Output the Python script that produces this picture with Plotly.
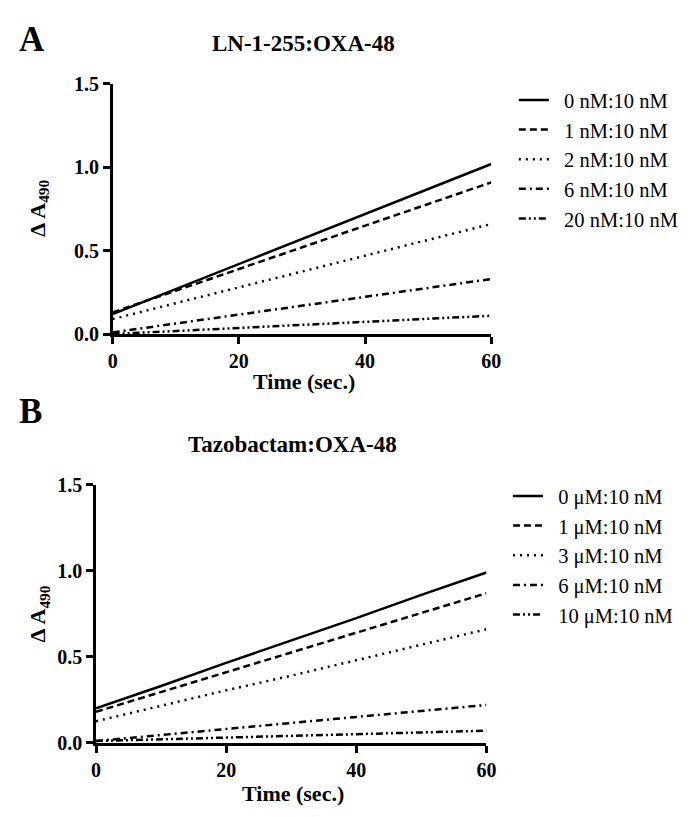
import plotly.graph_objects as go

# ---- data ----
time_pts = [0, 10, 20, 30, 40, 50, 60]

a_labels = ["0 nM:10 nM", "1 nM:10 nM", "2 nM:10 nM", "6 nM:10 nM", "20 nM:10 nM"]
a_0nM = [0.12, 0.27, 0.42, 0.57, 0.72, 0.87, 1.02]
a_1nM = [0.13, 0.26, 0.39, 0.52, 0.65, 0.78, 0.91]
a_2nM = [0.09, 0.185, 0.28, 0.375, 0.47, 0.565, 0.66]
a_6nM = [0.01, 0.063, 0.117, 0.17, 0.223, 0.277, 0.33]
a_20nM = [0.0, 0.018, 0.037, 0.055, 0.073, 0.092, 0.11]

b_labels = ["0 μM:10 nM", "1 μM:10 nM", "3 μM:10 nM", "6 μM:10 nM", "10 μM:10 nM"]
b_0uM = [0.20, 0.33, 0.465, 0.595, 0.725, 0.86, 0.99]
b_1uM = [0.18, 0.295, 0.41, 0.525, 0.64, 0.755, 0.87]
b_3uM = [0.125, 0.215, 0.305, 0.39, 0.48, 0.57, 0.66]
b_6uM = [0.01, 0.045, 0.08, 0.115, 0.15, 0.185, 0.22]
b_10uM = [0.01, 0.02, 0.03, 0.04, 0.05, 0.06, 0.07]

x_ticks = [0, 20, 40, 60]
y_ticks = [0.0, 0.5, 1.0, 1.5]

dashes = ["solid", "7px,4px", "2px,5px", "7px,4px,2px,4px", "7px,3px,2px,3px,2px,3px"]

W, H = 698, 817
FONT = "'Liberation Serif', 'Times New Roman', Times, 'DejaVu Serif', serif"
PAD = "\u00a0\u00a0"

fig = go.Figure()

a_series = [a_0nM, a_1nM, a_2nM, a_6nM, a_20nM]
b_series = [b_0uM, b_1uM, b_3uM, b_6uM, b_10uM]

for lab, ys, d in zip(a_labels, a_series, dashes):
    fig.add_trace(go.Scatter(x=time_pts, y=ys, mode="lines", name=PAD + lab,
                             line=dict(color="black", width=2.5, dash=d),
                             xaxis="x", yaxis="y", legend="legend"))
for lab, ys, d in zip(b_labels, b_series, dashes):
    fig.add_trace(go.Scatter(x=time_pts, y=ys, mode="lines", name=PAD + lab,
                             line=dict(color="black", width=2.5, dash=d),
                             xaxis="x2", yaxis="y2", legend="legend2"))

def px_x(p):
    return p / W

def px_y(p):
    return 1 - p / H

axis_common = dict(showline=True, linecolor="black", linewidth=2.5,
                   ticks="outside", ticklen=7, tickwidth=2.5, tickcolor="black",
                   showgrid=False, zeroline=False,
                   tickfont=dict(family=FONT, size=20, color="black", weight="bold"))

fig.update_layout(
    width=W, height=H,
    margin=dict(l=0, r=0, t=0, b=0),
    plot_bgcolor="white", paper_bgcolor="white",
    font=dict(family=FONT, color="black"),
    xaxis=dict(domain=[px_x(110), px_x(497)], range=[0, 60], tickvals=x_ticks,
               anchor="y", **axis_common),
    yaxis=dict(domain=[px_y(332), px_y(75)], range=[0, 1.5], tickvals=y_ticks,
               tickformat=".1f", anchor="x", **axis_common),
    xaxis2=dict(domain=[px_x(93), px_x(492)], range=[0, 60], tickvals=x_ticks,
                anchor="y2", **axis_common),
    yaxis2=dict(domain=[px_y(752), px_y(487)], range=[0, 1.5], tickvals=y_ticks,
                tickformat=".1f", anchor="x2", **axis_common),
    legend=dict(x=px_x(520), y=px_y(71), xanchor="left", yanchor="top",
                font=dict(family=FONT, size=20.5, color="black"),
                itemwidth=30, tracegroupgap=0, bgcolor="rgba(0,0,0,0)"),
    legend2=dict(x=px_x(514), y=px_y(478), xanchor="left", yanchor="top",
                 font=dict(family=FONT, size=20.5, color="black"),
                 itemwidth=30, tracegroupgap=0, bgcolor="rgba(0,0,0,0)"),
)

annots = [
    dict(text="A", x=px_x(12), y=px_y(29), xanchor="left", yanchor="middle",
         font=dict(size=35, weight="bold")),
    dict(text="B", x=px_x(12), y=px_y(412), xanchor="left", yanchor="middle",
         font=dict(size=35, weight="bold")),
    dict(text="LN-1-255:OXA-48", x=px_x(305), y=px_y(33), xanchor="center", yanchor="middle",
         font=dict(size=23, weight="bold")),
    dict(text="Tazobactam:OXA-48", x=px_x(294), y=px_y(446), xanchor="center", yanchor="middle",
         font=dict(size=23, weight="bold")),
    dict(text="Time (sec.)", x=px_x(306), y=px_y(381), xanchor="center", yanchor="middle",
         font=dict(size=22, weight="bold")),
    dict(text="Time (sec.)", x=px_x(294), y=px_y(804), xanchor="center", yanchor="middle",
         font=dict(size=22, weight="bold")),
    dict(text="Δ A<sub>490</sub>", x=px_x(34), y=px_y(203), textangle=-90,
         xanchor="center", yanchor="middle", font=dict(size=22, weight="bold")),
    dict(text="Δ A<sub>490</sub>", x=px_x(35), y=px_y(620), textangle=-90,
         xanchor="center", yanchor="middle", font=dict(size=22, weight="bold")),
]
for a in annots:
    a.update(xref="paper", yref="paper", showarrow=False)
    a["font"].update(family=FONT, color="black")
fig.update_layout(annotations=annots)

fig.write_html("out.html", config={"displayModeBar": False},
               post_script="document.body.style.margin='0';document.body.style.overflow='hidden';")
